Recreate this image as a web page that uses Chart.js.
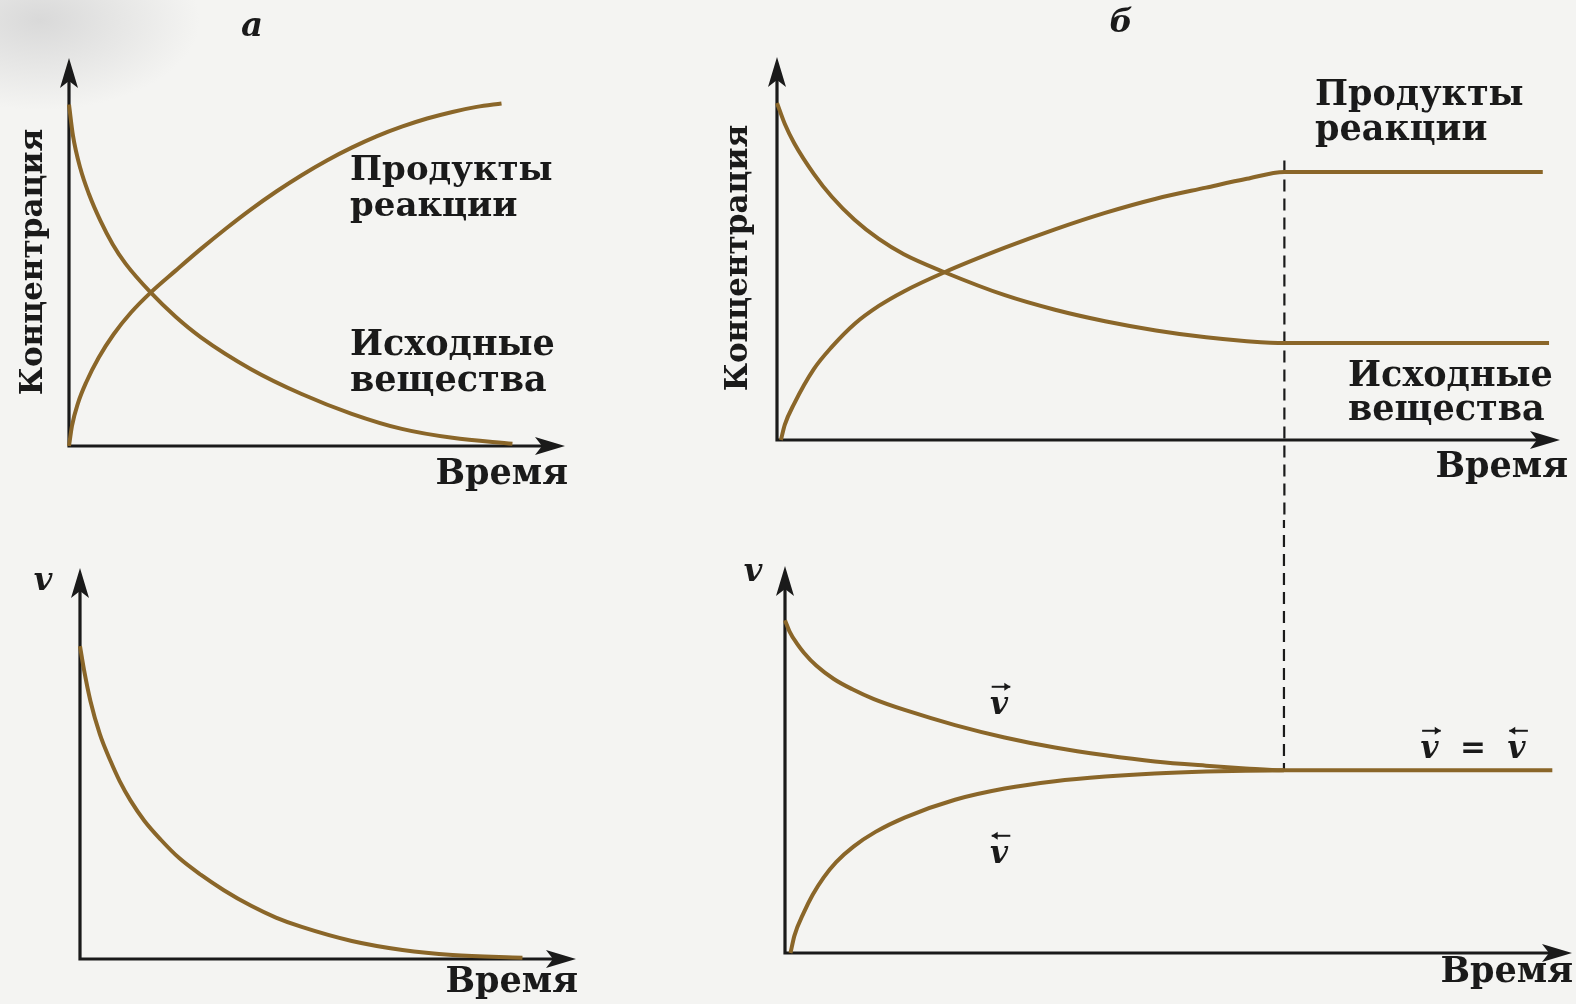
<!DOCTYPE html>
<html>
<head>
<meta charset="utf-8">
<script src="https://cdn.jsdelivr.net/npm/chart.js@4.4.0/dist/chart.umd.min.js"></script>
<style>
  body { margin: 0; width: 1576px; height: 1004px; overflow: hidden; position: relative;
         background: radial-gradient(ellipse 160px 90px at 40px 20px, #d9d9d9, rgba(243,243,241,0)) , #f4f4f2; }
  .box { position: absolute; }
  canvas { display: block; }
</style>
</head>
<body>
<div class="box" style="left:0;top:0"><canvas id="chartA"></canvas></div>
<div class="box" style="left:700px;top:0"><canvas id="chartB"></canvas></div>
<div class="box" style="left:0;top:520px"><canvas id="chartC"></canvas></div>
<div class="box" style="left:700px;top:520px"><canvas id="chartD"></canvas></div>
<script>
// all values in % of axis length (time -> x, concentration / rate -> y)

// а: irreversible reaction, concentration vs time
const timeA_products = [0, 0.6, 1.8, 3.5, 6, 9, 12.5, 16.5, 21.5, 26.6, 31.6, 36.7, 41.8, 46.9, 52, 57, 62, 67.1, 72.2, 77.3, 82.2, 87.2];
const concA_products = [0, 5.2, 11, 16.5, 22.8, 28.8, 34.4, 39.6, 45.2, 50.8, 56, 61, 65.6, 69.8, 73.6, 76.9, 79.8, 82.3, 84.4, 86.1, 87.4, 88.3];
const timeA_reactants = [0, 0.8, 2.3, 4, 6.35, 8.8, 11.4, 16.5, 21.5, 26.6, 36.7, 46.9, 57, 67.1, 77.3, 89.4];
const concA_reactants = [88, 80, 71.5, 65, 58, 52, 47, 39.5, 33.3, 28, 19.8, 13.4, 8.3, 4.4, 2.1, 0.6];

// б: reversible reaction, concentration vs time
const timeB_products = [0.5, 1, 2.2, 4.7, 7, 9.9, 13, 16.2, 21.4, 29.1, 35.5, 41.9, 48.4, 54.8, 60, 64.8, 97.8];
const concB_products = [0, 4, 9.5, 18.5, 24.3, 30.3, 35, 38.8, 43.8, 50.2, 55, 59.3, 63, 65.9, 68.2, 70, 70];
const timeB_reactants = [0, 1, 2.2, 4.7, 7, 9.9, 13, 16.2, 21.4, 29.1, 35.5, 41.9, 48.4, 54.8, 60, 64.8, 98.6];
const concB_reactants = [88, 82.5, 77.5, 69.5, 63.5, 57.5, 52.5, 48.5, 43.8, 37.8, 34, 31, 28.6, 26.8, 25.8, 25.3, 25.3];
const eqTimeB = 64.8;

// в: rate of irreversible reaction
const timeC = [0, 0.8, 2.1, 4, 6.2, 8, 10.2, 13, 16.3, 20, 24.4, 29, 34.5, 39.5, 44.7, 54.8, 65, 75.1, 89.2];
const rateC = [80, 74, 66, 57.5, 50.5, 45.5, 40.5, 35.3, 30.5, 25.8, 21.5, 17.6, 13.6, 10.6, 8.2, 4.6, 2.3, 1, 0.3];

// г: forward and reverse rates
const timeD_forward = [0, 0.6, 1.5, 2.4, 4, 6.2, 8.5, 11.3, 15.2, 21.6, 27.9, 34.3, 40.7, 47, 53.5, 58.5, 63.4, 97.5];
const rateD_forward = [86, 83, 80, 77.6, 74.2, 70.8, 68.2, 65.6, 62.8, 58.9, 55.7, 53.1, 51.1, 49.5, 48.4, 47.7, 47.2, 47.2];
const timeD_reverse = [0.7, 1.2, 2.4, 3.5, 4.9, 6.5, 8.7, 11.5, 15.2, 21.6, 27.9, 34.3, 40.7, 47, 53.5, 58.5, 63.4];
const rateD_reverse = [0, 4.5, 10.5, 15, 19.5, 23.5, 27.5, 31.3, 35, 39.6, 42.5, 44.4, 45.6, 46.4, 46.9, 47.1, 47.2];
const eqTimeD = 63.4;

const SERIF = '"DejaVu Serif", "Liberation Serif", serif';
const INK = '#1a1a1a';
const CURVE = '#8a6629';

function curve(xs, ys) {
  return {
    data: xs.map((x, i) => ({ x: x, y: ys[i] })),
    showLine: true,
    borderColor: CURVE,
    borderWidth: 4,
    pointRadius: 0,
    cubicInterpolationMode: 'monotone',
    clip: false
  };
}

function arrowHead(ctx, x, y, dir) {
  ctx.beginPath();
  if (dir === 'right') {
    ctx.moveTo(x, y); ctx.lineTo(x - 30, y - 9); ctx.lineTo(x - 23, y); ctx.lineTo(x - 30, y + 9);
  } else {
    ctx.moveTo(x, y); ctx.lineTo(x - 9, y + 30); ctx.lineTo(x, y + 23); ctx.lineTo(x + 9, y + 30);
  }
  ctx.closePath();
  ctx.fill();
}

function vecV(ctx, x, y, dir, size) {
  // small arrow above a "v"
  const half = size * 0.3, yy = y - size * 0.62;
  ctx.lineWidth = 2;
  ctx.beginPath(); ctx.moveTo(x - half, yy); ctx.lineTo(x + half, yy); ctx.stroke();
  const tip = dir > 0 ? x + half : x - half;
  ctx.beginPath();
  ctx.moveTo(tip, yy); ctx.lineTo(tip - dir * 6, yy - 4); ctx.lineTo(tip - dir * 6, yy + 4);
  ctx.closePath(); ctx.fill();
}

const panelPlugin = {
  id: 'panel',
  beforeDatasetsDraw(chart, args, opts) {
    const { ctx, chartArea: { left, right, top, bottom }, scales: { x, y } } = chart;
    ctx.save();
    ctx.strokeStyle = INK; ctx.fillStyle = INK; ctx.lineWidth = 3.2;
    ctx.beginPath();
    ctx.moveTo(left, top + 20); ctx.lineTo(left, bottom); ctx.lineTo(right - 20, bottom);
    ctx.stroke();
    arrowHead(ctx, right, bottom, 'right');
    arrowHead(ctx, left, top, 'up');
    if (opts.dash) {
      const px = x.getPixelForValue(opts.dash.x);
      const y0 = opts.dash.from === 'edge' ? 0 : y.getPixelForValue(opts.dash.from);
      const y1 = opts.dash.to === 'edge' ? chart.height : y.getPixelForValue(opts.dash.to);
      ctx.lineWidth = 2.2;
      ctx.setLineDash([12, 7]);
      ctx.lineDashOffset = opts.dash.offset || 0;
      ctx.beginPath(); ctx.moveTo(px, y0); ctx.lineTo(px, y1); ctx.stroke();
    }
    ctx.restore();
  },
  afterDatasetsDraw(chart, args, opts) {
    const ctx = chart.ctx;
    ctx.save();
    ctx.fillStyle = INK; ctx.strokeStyle = INK;
    ctx.textBaseline = 'middle';
    (opts.labels || []).forEach(l => {
      ctx.font = (l.style || 'bold') + ' ' + (l.size || 35) + 'px ' + SERIF;
      ctx.textAlign = l.align || 'left';
      if (l.rotate) {
        ctx.save();
        ctx.translate(l.x, l.y); ctx.rotate(-Math.PI / 2);
        ctx.fillText(l.text, 0, 0);
        ctx.restore();
      } else {
        ctx.fillText(l.text, l.x, l.y);
      }
      if (l.vec) {
        const w = ctx.measureText(l.text).width;
        const wv = ctx.measureText('v').width;
        const x0 = l.align === 'center' ? l.x - w / 2 : l.x;
        vecV(ctx, x0 + wv / 2 + 2, l.y, l.vec[0], l.size);
        if (l.vec.length > 1) vecV(ctx, x0 + w - wv / 2 + 2, l.y, l.vec[1], l.size);
      }
    });
    ctx.restore();
  }
};

function makeChart(id, w, h, pad, datasets, panel) {
  const cv = document.getElementById(id);
  cv.width = w; cv.height = h;
  return new Chart(cv, {
    type: 'scatter',
    data: { datasets: datasets },
    options: {
      responsive: false,
      animation: false,
      events: [],
      layout: { padding: pad },
      scales: {
        x: { type: 'linear', min: 0, max: 100, display: false },
        y: { type: 'linear', min: 0, max: 100, display: false }
      },
      plugins: { legend: { display: false }, tooltip: { enabled: false }, panel: panel }
    },
    plugins: [panelPlugin]
  });
}

makeChart('chartA', 700, 520, { left: 69, right: 135, top: 58, bottom: 74 },
  [curve(timeA_products, concA_products), curve(timeA_reactants, concA_reactants)],
  { labels: [
    { text: 'а', x: 252, y: 27, align: 'center', style: 'italic bold', size: 34 },
    { text: 'Концентрация', x: 34, y: 262, align: 'center', rotate: true, size: 31 },
    { text: 'Продукты', x: 350, y: 171, size: 34 },
    { text: 'реакции', x: 350, y: 207, size: 34 },
    { text: 'Исходные', x: 350, y: 346 },
    { text: 'вещества', x: 350, y: 382 },
    { text: 'Время', x: 568, y: 475, align: 'right' }
  ] });

makeChart('chartB', 876, 520, { left: 77, right: 16, top: 57, bottom: 80 },
  [curve(timeB_products, concB_products), curve(timeB_reactants, concB_reactants)],
  { dash: { x: eqTimeB, from: 73, to: 'edge' },
    labels: [
    { text: 'б', x: 421, y: 24, align: 'center', style: 'italic bold', size: 32 },
    { text: 'Концентрация', x: 39, y: 258, align: 'center', rotate: true, size: 31 },
    { text: 'Продукты', x: 615, y: 96 },
    { text: 'реакции', x: 615, y: 131 },
    { text: 'Исходные', x: 648, y: 377 },
    { text: 'вещества', x: 648, y: 411 },
    { text: 'Время', x: 868, y: 468, align: 'right' }
  ] });

makeChart('chartC', 700, 484, { left: 80, right: 124, top: 48, bottom: 45 },
  [curve(timeC, rateC)],
  { labels: [
    { text: 'v', x: 43, y: 62, align: 'center', style: 'italic bold', size: 32 },
    { text: 'Время', x: 578, y: 463, align: 'right' }
  ] });

makeChart('chartD', 876, 484, { left: 85, right: 4, top: 46, bottom: 51 },
  [curve(timeD_forward, rateD_forward), curve(timeD_reverse, rateD_reverse)],
  { dash: { x: eqTimeD, from: 'edge', to: 47.2, offset: 4 },
    labels: [
    { text: 'v', x: 53, y: 53, align: 'center', style: 'italic bold', size: 32 },
    { text: 'v', x: 299, y: 186, align: 'center', style: 'italic bold', size: 31, vec: [1] },
    { text: 'v', x: 299, y: 335, align: 'center', style: 'italic bold', size: 31, vec: [-1] },
    { text: 'v  =  v', x: 773, y: 230, align: 'center', style: 'italic bold', size: 31, vec: [1, -1] },
    { text: 'Время', x: 873, y: 453, align: 'right' }
  ] });
</script>
</body>
</html>
